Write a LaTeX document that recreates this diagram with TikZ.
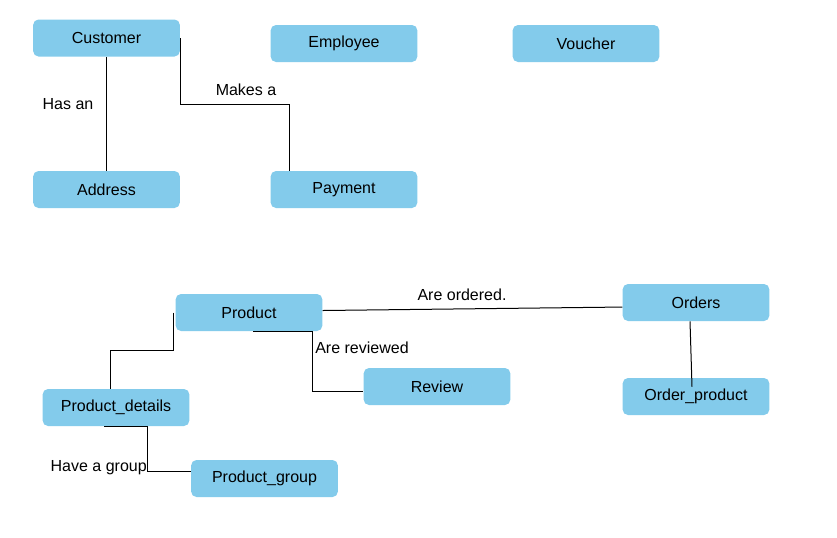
\documentclass[tikz,border=0pt]{standalone}
\usepackage{fontspec}
\setmainfont{Liberation Sans}
\definecolor{box_blue}{HTML}{83CBEB}

\begin{document}
\begin{tikzpicture}[x=0.75pt,y=-0.75pt,
  entity/.style={rectangle,rounded corners=4pt,fill=box_blue,minimum width=110pt,minimum height=27.75pt,inner sep=0pt,font=\fontsize{12}{14}\selectfont},
  lien/.style={line width=0.75pt},
  etiquette/.style={inner sep=0pt,font=\fontsize{12}{14}\selectfont}]
\useasboundingbox (0,0) rectangle (837,537);%le cadre

\node[entity] (customer) at (106.5,38){Customer};
\node[entity] (employee) at (344,43.5){Employee};
\node[entity] (voucher) at (586,43.5){Voucher};
\node[entity] (address) at (106.5,189.5){Address};
\node[entity] (payment) at (344,189.5){Payment};

\node[entity] (product) at (249,312.5){Product};
\node[entity] (orders) at (696,302.5){Orders};
\node[entity] (review) at (437,386.5){Review};
\node[entity] (pdetails) at (116,407.5){Product\_details};
\node[entity] (oproduct) at (696,396.5){Order\_product};
\node[entity] (pgroup) at (264.5,478.5){Product\_group};

\draw[lien] (customer) -- (address);%has an
\draw[lien] (customer.east) -- ++(0,66) -| ([xshift=-41pt]payment.north);%makes a
\draw[lien] ([yshift=1.5pt]product.east) -- ([yshift=-3.4pt]orders.west);%are ordered
\draw[lien] ([xshift=3pt]product.south) -- ++(59,0) |- ([yshift=-4pt]review.west);%are reviewed
\draw[lien] ([xshift=-1.5pt]product.west) -- ++(0,38) -| ([xshift=-4pt]pdetails.north);
\draw[lien] ([xshift=-9pt]pdetails.south) -- ++(43,0) |- ([yshift=5pt]pgroup.west);%have a group
\draw[lien] ([xshift=-4.5pt]orders.south) -- ([xshift=-3pt,yshift=-6.75pt]oproduct.north);

\node[etiquette] (has_an) at (68,104){Has an};
\node[etiquette] (makes_a) at (246,90){Makes a};
\node[etiquette] (are_ordered) at (462,295){Are ordered.};
\node[etiquette] (are_reviewed) at (362,348){Are reviewed};
\node[etiquette,anchor=east] (have_group) at (147,468){Have a group};

\end{tikzpicture}
\end{document}
